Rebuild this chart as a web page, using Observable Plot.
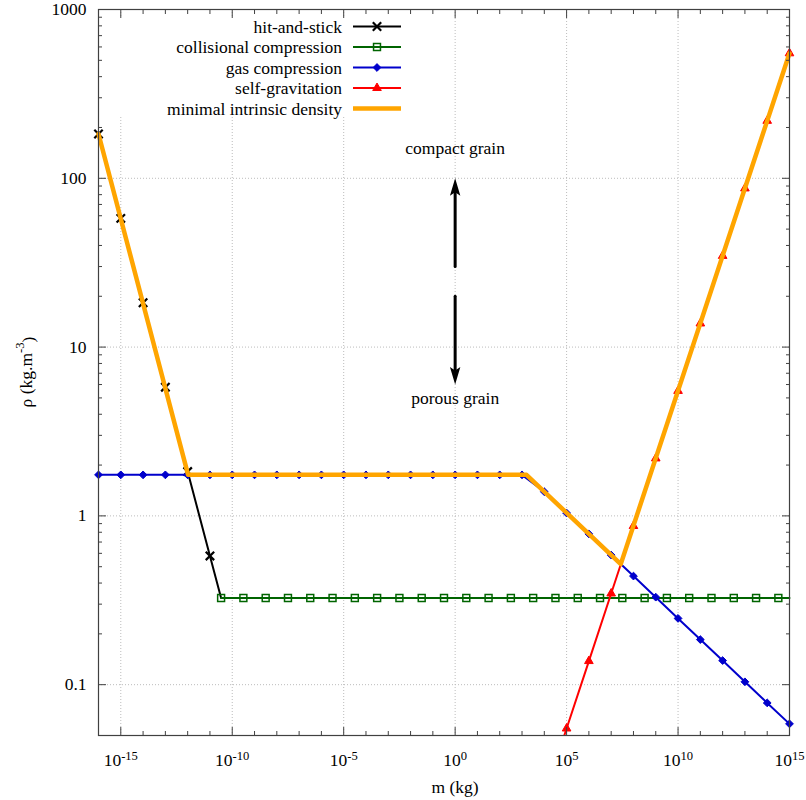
<!DOCTYPE html>
<html>
<head>
<meta charset="utf-8">
<script src="https://cdn.jsdelivr.net/npm/d3@7"></script>
<script src="https://cdn.jsdelivr.net/npm/@observablehq/plot@0.6"></script>
<style>
  body { margin: 0; background: #fff; }
  svg { display: block; }
</style>
</head>
<body>
<div id="chart"></div>
<script>
// ---------- data (log10 of mass in kg, density in kg/m^3) ----------
const hitExp = [-16, -15, -14, -13, -12, -11, -10.5];
const hitRho = [183, 57.9, 18.3, 5.79, 1.83, 0.579, 0.326];

const colExp = [-10.5, -9.5, -8.5, -7.5, -6.5, -5.5, -4.5, -3.5, -2.5, -1.5, -0.5, 0.5, 1.5, 2.5,
                3.5, 4.5, 5.5, 6.5, 7.5, 8.5, 9.5, 10.5, 11.5, 12.5, 13.5, 14.5, 15];
const colRho = [0.326, 0.326, 0.326, 0.326, 0.326, 0.326, 0.326, 0.326, 0.326, 0.326, 0.326, 0.326, 0.326, 0.326,
                0.326, 0.326, 0.326, 0.326, 0.326, 0.326, 0.326, 0.326, 0.326, 0.326, 0.326, 0.326, 0.326];

const gasExp = [-16, -15, -14, -13, -12, -11, -10, -9, -8, -7, -6, -5, -4, -3, -2, -1, 0, 1, 2, 3,
                4, 5, 6, 7, 8, 9, 10, 11, 12, 13, 14, 15];
const gasRho = [1.75, 1.75, 1.75, 1.75, 1.75, 1.75, 1.75, 1.75, 1.75, 1.75, 1.75, 1.75, 1.75, 1.75, 1.75, 1.75, 1.75, 1.75, 1.75, 1.75,
                1.39, 1.04, 0.782, 0.586, 0.44, 0.33, 0.247, 0.185, 0.139, 0.104, 0.078, 0.0586];

const gravExp = [4, 5, 6, 7, 8, 9, 10, 11, 12, 13, 14, 15];
const gravRho = [0.0219, 0.055, 0.138, 0.347, 0.871, 2.19, 5.5, 13.8, 34.7, 87.1, 219, 550];

const minExp = [-16, -11.98, 3.2, 7.43, 15];
const minRho = [183, 1.75, 1.75, 0.518, 550];

const seriesNames = ["hit-and-stick", "collisional compression", "gas compression", "self-gravitation", "minimal intrinsic density"];
const seriesColors = ["#000000", "#006400", "#0000cc", "#ff0000", "#ffa500"];

// ---------- ticks ----------
const xTickExp = [-15, -10, -5, 0, 5, 10, 15];
const xMinorExp = [-14, -13, -12, -11, -9, -8, -7, -6, -4, -3, -2, -1, 1, 2, 3, 4, 6, 7, 8, 9, 11, 12, 13, 14];
const yTickVals = [0.1, 1, 10, 100, 1000];
const yTickLabels = ["0.1", "1", "10", "100", "1000"];
const yMinorMult = [2, 3, 4, 5, 6, 7, 8, 9];
const yMinorDecades = [0.1, 1, 10, 100];

// ---------- annotations ----------
const noteText = ["compact grain", "porous grain"];
const noteRho = [150, 5];
const arrowFrom = [30, 20];
const arrowTo = [100, 6];
const arrowRot = [0, 180];

// ---------- build tables ----------
const rows = (ex, vals) => ex.map((e, i) => ({m: 10 ** e, rho: vals[i], i}));
const hit = rows(hitExp, hitRho);
const col = rows(colExp, colRho);
const gas = rows(gasExp, gasRho);
const grav = rows(gravExp, gravRho);
const minD = rows(minExp, minRho);

const xMajor = xTickExp.map(e => 10 ** e);
const xMinor = xMinorExp.map(e => 10 ** e);
const yMinor = yMinorDecades.flatMap(d => yMinorMult.map(k => k * d));
const notes = noteText.map((t, i) => ({m: 1, rho: noteRho[i], t}));
const arrows = arrowFrom.map((f, i) => ({m: 1, from: f, to: arrowTo[i], rot: arrowRot[i]}));

const arrowHead = {
  draw(ctx) {
    ctx.moveTo(0, 0);
    ctx.lineTo(5.2, 17.5);
    ctx.lineTo(0, 14);
    ctx.lineTo(-5.2, 17.5);
    ctx.closePath();
  }
};

const FONT = "Liberation Serif, Times New Roman, Times, DejaVu Serif, serif";
const FS = 17.5;
const AX = "#404040";
const GRID = "#bcbcbc";

const R = {times: 3.9, square: 3.9, diamond2: 3.5, triangle: 3.2};

const plot = Plot.plot({
  width: 806,
  height: 800,
  marginLeft: 98,
  marginRight: 17,
  marginTop: 9,
  marginBottom: 65,
  style: {fontFamily: FONT, fontSize: FS + "px", color: "#000", background: "#fff"},
  x: {type: "log", domain: [1e-16, 1e15]},
  y: {type: "log", domain: [0.05, 1000]},
  marks: [
    Plot.gridX(xMajor, {stroke: GRID, strokeOpacity: 1, strokeDasharray: "1,2"}),
    Plot.gridY(yTickVals, {stroke: GRID, strokeOpacity: 1, strokeDasharray: "1,2"}),

    // data
    Plot.line(hit, {x: "m", y: "rho", stroke: seriesColors[0], strokeWidth: 2}),
    Plot.dot(hit.filter(d => Number.isInteger(hitExp[d.i])), {x: "m", y: "rho", symbol: "times", r: R.times, stroke: seriesColors[0], strokeWidth: 2.2}),
    Plot.line(col, {x: "m", y: "rho", stroke: seriesColors[1], strokeWidth: 2}),
    Plot.dot(col.filter(d => d.i < col.length - 1), {x: "m", y: "rho", symbol: "square", r: R.square, fill: "none", stroke: seriesColors[1], strokeWidth: 1.5}),
    Plot.line(gas, {x: "m", y: "rho", stroke: seriesColors[2], strokeWidth: 2}),
    Plot.dot(gas, {x: "m", y: "rho", symbol: "diamond2", r: R.diamond2, fill: seriesColors[2], stroke: seriesColors[2], strokeWidth: 1}),
    Plot.line(grav, {x: "m", y: "rho", stroke: seriesColors[3], strokeWidth: 2, clip: true}),
    Plot.dot(grav.filter(d => d.rho >= 0.05), {x: "m", y: "rho", symbol: "triangle", r: R.triangle, fill: seriesColors[3], stroke: seriesColors[3], strokeWidth: 1}),
    Plot.line(minD, {x: "m", y: "rho", stroke: seriesColors[4], strokeWidth: 4.5}),

    // annotations
    Plot.arrow(arrows, {x1: "m", x2: "m", y1: "from", y2: "to", headLength: 0, insetEnd: 10, stroke: "#000", strokeWidth: 3}),
    Plot.dot(arrows, {x: "m", y: "to", symbol: arrowHead, fill: "#000", stroke: "none", rotate: "rot"}),
    Plot.text(notes, {x: "m", y: "rho", text: "t", fontSize: FS, fill: "#000"}),

    // frame + inward ticks (mirrored)
    Plot.frame({stroke: AX, strokeWidth: 1.2}),
    Plot.axisX(xMajor, {anchor: "bottom", tickSize: -8, fill: "none", stroke: AX, label: null}),
    Plot.axisX(xMinor, {anchor: "bottom", tickSize: -4, fill: "none", stroke: AX, label: null}),
    Plot.axisX(xMajor, {anchor: "top", tickSize: -8, fill: "none", stroke: AX, label: null}),
    Plot.axisX(xMinor, {anchor: "top", tickSize: -4, fill: "none", stroke: AX, label: null}),
    Plot.axisY(yTickVals, {anchor: "left", tickSize: -8, fill: "none", stroke: AX, label: null}),
    Plot.axisY(yMinor, {anchor: "left", tickSize: -4, fill: "none", stroke: AX, label: null}),
    Plot.axisY(yTickVals, {anchor: "right", tickSize: -8, fill: "none", stroke: AX, label: null}),
    Plot.axisY(yMinor, {anchor: "right", tickSize: -4, fill: "none", stroke: AX, label: null}),

    // tick labels
    Plot.axisX(xMajor, {anchor: "bottom", tickSize: 0, tickPadding: 18, label: null, fontSize: FS,
      tickFormat: d => "10^" + Math.round(Math.log10(d))}),
    Plot.axisY(yTickVals, {anchor: "left", tickSize: 0, tickPadding: 12, label: null, fontSize: FS,
      tickFormat: d => yTickLabels[yTickVals.indexOf(d)]})
  ]
});

document.getElementById("chart").appendChild(plot);

// superscripts in tick labels
d3.select(plot).selectAll("text").each(function () {
  const t = this.textContent;
  if (t.startsWith("10^")) {
    const [b, e] = t.split("^");
    const sel = d3.select(this);
    sel.text(null);
    sel.append("tspan").text(b);
    sel.append("tspan").attr("dy", "-0.5em").attr("font-size", "0.72em").text(e);
  }
});

const svg = d3.select(plot);

// opaque key box
svg.append("rect").attr("x", 107).attr("y", 18).attr("width", 305).attr("height", 99).attr("fill", "#fff");

// legend
const symbolTypes = [d3.symbolTimes, d3.symbolSquare, d3.symbolDiamond2, d3.symbolTriangle, null];
const symbolR = [R.times, R.square, R.diamond2, R.triangle, 0];
const symbolFill = [false, false, true, true, false];
const symbolSW = [2.2, 1.5, 1, 1, 0];
const lineW = [2, 2, 2, 2, 4.5];
const leg = svg.append("g").attr("font-family", FONT).attr("font-size", FS);
seriesNames.forEach((name, i) => {
  const y = 26.5 + i * 20.5;
  leg.append("text").attr("x", 342).attr("y", y).attr("text-anchor", "end")
    .attr("dominant-baseline", "central").attr("fill", "#000").text(name);
  leg.append("line").attr("x1", 353).attr("x2", 401).attr("y1", y).attr("y2", y)
    .attr("stroke", seriesColors[i]).attr("stroke-width", lineW[i]);
  if (symbolTypes[i]) {
    leg.append("path")
      .attr("d", d3.symbol(symbolTypes[i], symbolR[i] * symbolR[i] * Math.PI)())
      .attr("transform", `translate(377,${y})`)
      .attr("fill", symbolFill[i] ? seriesColors[i] : "none")
      .attr("stroke", seriesColors[i])
      .attr("stroke-width", symbolSW[i]);
  }
});

// axis titles
svg.append("text").attr("x", 455).attr("y", 787).attr("text-anchor", "middle")
  .attr("dominant-baseline", "central").attr("font-family", FONT).attr("font-size", FS).text("m (kg)");
const yl = svg.append("text").attr("transform", "translate(26,372) rotate(-90)").attr("text-anchor", "middle")
  .attr("dominant-baseline", "central").attr("font-family", FONT).attr("font-size", FS);
yl.append("tspan").text("ρ (kg.m");
yl.append("tspan").attr("dy", "-0.5em").attr("font-size", "0.72em").text("-3");
yl.append("tspan").attr("dy", "0.5em").text(")");
</script>
</body>
</html>
